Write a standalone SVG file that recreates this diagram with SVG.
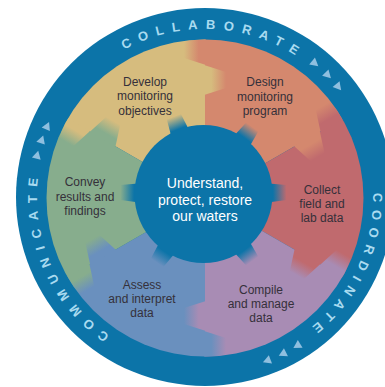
<svg xmlns="http://www.w3.org/2000/svg" width="385" height="387" viewBox="0 0 385 387">
<defs>
<style>
.lbl{font-family:"Liberation Sans",Arial,sans-serif;font-size:12px;fill:#35303a;text-anchor:middle}
.ctr{font-family:"Liberation Sans",Arial,sans-serif;font-size:14px;fill:#ffffff;text-anchor:middle}
.ring{font-family:"Liberation Sans",Arial,sans-serif;font-size:13px;font-weight:bold;fill:#a9dbf0;text-anchor:middle}
.tri{fill:#8fbfdf}
</style>
<clipPath id="disk"><circle cx="205" cy="198" r="158.5"/></clipPath>
<path id="ringPath" d="M205,365 A168,168 0 1 1 205,29 A168,168 0 1 1 205,365" fill="none"/>
<linearGradient id="gTan" gradientUnits="userSpaceOnUse" x1="0" y1="0" x2="21" y2="0"><stop offset="0.3" stop-color="#d6bc7e"/><stop offset="1" stop-color="#d6bc7e" stop-opacity="0"/></linearGradient>
<linearGradient id="gSalmon" gradientUnits="userSpaceOnUse" x1="0" y1="0" x2="21" y2="0"><stop offset="0.3" stop-color="#d4886e"/><stop offset="1" stop-color="#d4886e" stop-opacity="0"/></linearGradient>
<linearGradient id="gRed" gradientUnits="userSpaceOnUse" x1="0" y1="0" x2="21" y2="0"><stop offset="0.3" stop-color="#c06a6e"/><stop offset="1" stop-color="#c06a6e" stop-opacity="0"/></linearGradient>
<linearGradient id="gLav" gradientUnits="userSpaceOnUse" x1="0" y1="0" x2="21" y2="0"><stop offset="0.3" stop-color="#a88cb4"/><stop offset="1" stop-color="#a88cb4" stop-opacity="0"/></linearGradient>
<linearGradient id="gBlue" gradientUnits="userSpaceOnUse" x1="0" y1="0" x2="21" y2="0"><stop offset="0.3" stop-color="#6a90be"/><stop offset="1" stop-color="#6a90be" stop-opacity="0"/></linearGradient>
<linearGradient id="gGreen" gradientUnits="userSpaceOnUse" x1="0" y1="0" x2="21" y2="0"><stop offset="0.3" stop-color="#87ad8d"/><stop offset="1" stop-color="#87ad8d" stop-opacity="0"/></linearGradient>
<linearGradient id="gHub" gradientUnits="userSpaceOnUse" x1="0" y1="-67" x2="0" y2="-83"><stop offset="0.15" stop-color="#0c74a8"/><stop offset="1" stop-color="#0c74a8" stop-opacity="0"/></linearGradient>
<polygon id="slice" points="0,0 0,-200 173.2,-100"/>
<polygon id="tIn" points="-1,-103 21,-110 21,-126 -1,-133"/>
<polygon id="tOut" points="-1,-133 21,-140 21,-156 -1,-163"/>
<polygon id="hubTooth" points="-10,-60 10,-60 7.5,-83 -7.5,-83"/>
<path id="triShape" d="M4.5,0 L-3.5,-4.5 L-3.5,4.5 Z"/>
</defs>

<g id="ring">
<circle cx="205" cy="197" r="189" fill="#0c74a8"/>
<text class="ring" letter-spacing="8.1"><textPath href="#ringPath" startOffset="537">COLLABORATE</textPath></text>
<text class="ring" letter-spacing="7.3"><textPath href="#ringPath" startOffset="867">COORDINATE</textPath></text>
<text class="ring" letter-spacing="8.3"><textPath href="#ringPath" startOffset="196">COMMUNICATE</textPath></text>
<g class="tri">
<use href="#triShape" transform="translate(205,197) rotate(39.4) translate(0,-173)"/>
<use href="#triShape" transform="translate(205,197) rotate(45.2) translate(0,-173)"/>
<use href="#triShape" transform="translate(205,197) rotate(50.4) translate(0,-173)"/>
<use href="#triShape" transform="translate(205,197) rotate(148.2) translate(0,-175)"/>
<use href="#triShape" transform="translate(205,197) rotate(153.6) translate(0,-175)"/>
<use href="#triShape" transform="translate(205,197) rotate(159.2) translate(0,-175)"/>
<use href="#triShape" transform="translate(205,197) rotate(284) translate(0,-173)"/>
<use href="#triShape" transform="translate(205,197) rotate(289.3) translate(0,-173)"/>
<use href="#triShape" transform="translate(205,197) rotate(294.2) translate(0,-173)"/>
</g>
</g>

<g clip-path="url(#disk)">
<g id="develop">
<use href="#slice" fill="#d6bc7e" transform="translate(205,198) rotate(-60)"/>
</g>
<g id="design">
<use href="#slice" fill="#d4886e" transform="translate(205,198)"/>
</g>
<g id="collect">
<use href="#slice" fill="#c06a6e" transform="translate(205,198) rotate(60)"/>
</g>
<g id="compile">
<use href="#slice" fill="#a88cb4" transform="translate(205,198) rotate(120)"/>
</g>
<g id="assess">
<use href="#slice" fill="#6a90be" transform="translate(205,198) rotate(180)"/>
</g>
<g id="convey">
<use href="#slice" fill="#87ad8d" transform="translate(205,198) rotate(240)"/>
</g>
<g id="teeth">
<g transform="translate(205,198)"><use href="#tIn" fill="url(#gTan)"/><use href="#tOut" fill="url(#gSalmon)" transform="scale(-1,1)"/></g>
<g transform="translate(205,198) rotate(60)"><use href="#tIn" fill="url(#gSalmon)"/><use href="#tOut" fill="url(#gRed)" transform="scale(-1,1)"/></g>
<g transform="translate(205,198) rotate(120)"><use href="#tIn" fill="url(#gRed)"/><use href="#tOut" fill="url(#gLav)" transform="scale(-1,1)"/></g>
<g transform="translate(205,198) rotate(180)"><use href="#tIn" fill="url(#gLav)"/><use href="#tOut" fill="url(#gBlue)" transform="scale(-1,1)"/></g>
<g transform="translate(205,198) rotate(240)"><use href="#tIn" fill="url(#gBlue)"/><use href="#tOut" fill="url(#gGreen)" transform="scale(-1,1)"/></g>
<g transform="translate(205,198) rotate(300)"><use href="#tIn" fill="url(#gGreen)"/><use href="#tOut" fill="url(#gTan)" transform="scale(-1,1)"/></g>
</g>
</g>

<g id="labels">
<text class="lbl"><tspan x="145" y="85.5">Develop</tspan><tspan x="145" y="100">monitoring</tspan><tspan x="145" y="114.5">objectives</tspan></text>
<text class="lbl"><tspan x="265" y="86">Design</tspan><tspan x="265" y="100.5">monitoring</tspan><tspan x="265" y="115">program</tspan></text>
<text class="lbl"><tspan x="322" y="193.5">Collect</tspan><tspan x="322" y="207.5">field and</tspan><tspan x="322" y="222">lab data</tspan></text>
<text class="lbl"><tspan x="261" y="294">Compile</tspan><tspan x="261" y="308">and manage</tspan><tspan x="261" y="322">data</tspan></text>
<text class="lbl"><tspan x="142" y="289">Assess</tspan><tspan x="142" y="303">and interpret</tspan><tspan x="142" y="317">data</tspan></text>
<text class="lbl"><tspan x="85" y="186">Convey</tspan><tspan x="85" y="200.5">results and</tspan><tspan x="85" y="215">findings</tspan></text>
</g>

<g id="hub">
<g transform="translate(203.5,194)">
<circle r="69" fill="#0c74a8"/>
<use href="#hubTooth" fill="url(#gHub)" transform="rotate(-21)"/>
<use href="#hubTooth" fill="url(#gHub)" transform="rotate(36)"/>
<use href="#hubTooth" fill="url(#gHub)" transform="rotate(89)"/>
<use href="#hubTooth" fill="url(#gHub)" transform="rotate(144)"/>
<use href="#hubTooth" fill="url(#gHub)" transform="rotate(214)"/>
<use href="#hubTooth" fill="url(#gHub)" transform="rotate(271)"/>
</g>
<text class="ctr"><tspan x="205" y="188">Understand,</tspan><tspan x="205" y="204.5">protect, restore</tspan><tspan x="205" y="221">our waters</tspan></text>
</g>
</svg>
